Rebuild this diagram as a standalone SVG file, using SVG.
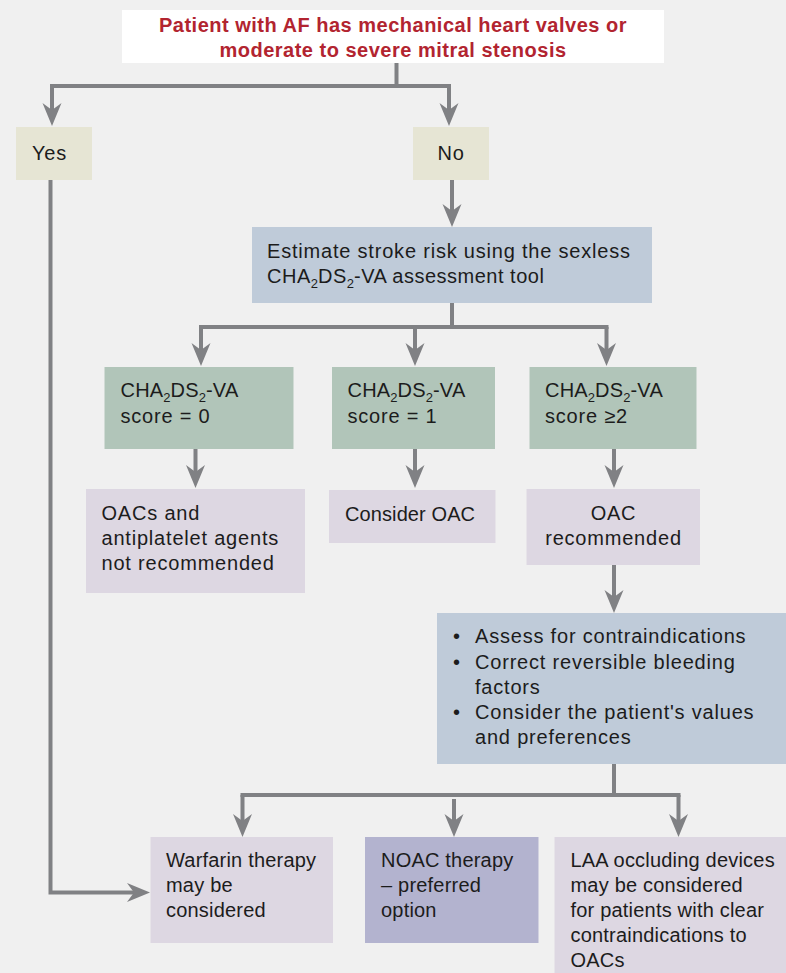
<svg xmlns="http://www.w3.org/2000/svg" width="786" height="973" viewBox="0 0 786 973">
<style>
.t{font-family:"Liberation Sans",Arial,sans-serif;font-size:20px;letter-spacing:0.8px;fill:#1c1c1c}
.n{letter-spacing:0.2px}
.ttl{font-family:"Liberation Sans",Arial,sans-serif;font-size:20px;font-weight:bold;fill:#b22430;text-anchor:middle;letter-spacing:0.5px}
.c{fill:none;stroke:#808184;stroke-width:4}
.a{marker-end:url(#ah)}
.yn{fill:#e6e5d4}
.bl{fill:#bfcbd9}
.gr{fill:#b1c5b9}
.pu{fill:#ddd7e2}
.nv{fill:#b3b3cf}
.s{font-size:13px;letter-spacing:0}
</style>
<defs>
<marker id="ah" markerUnits="userSpaceOnUse" markerWidth="24" markerHeight="20" refX="12" refY="9.5" orient="auto" overflow="visible">
<path d="M0,0 L23,9.5 L0,19 L7,9.5 Z" fill="#808184"/>
</marker>
</defs>
<rect width="786" height="973" fill="#f0f0f0"/>
<g id="connectors">
<path class="c" d="M396.5,63 V86 M50,86 H451"/>
<path class="c a" d="M52,86 V115"/>
<path class="c a" d="M449,86 V115"/>
<path class="c a" d="M452,180 V216"/>
<path class="c" d="M452,303 V327 M199,327 H608.5"/>
<path class="c a" d="M201,327 V355"/>
<path class="c a" d="M415,327 V355"/>
<path class="c a" d="M606.5,327 V355"/>
<path class="c a" d="M195.5,449 V477"/>
<path class="c a" d="M415,449 V477"/>
<path class="c a" d="M614,449 V477"/>
<path class="c a" d="M614,565 V602"/>
<path class="c" d="M614,764 V795 M240.5,795 H680.5"/>
<path class="c a" d="M242.5,795 V826"/>
<path class="c a" d="M454,799 V826"/>
<path class="c a" d="M678.5,795 V826"/>
<path class="c a" d="M50.5,180 V892.5 H139"/>
</g>
<g id="title">
<rect x="122" y="10" width="542" height="53" fill="#ffffff"/>
<text class="ttl" x="393" y="32">Patient with AF has mechanical heart valves or</text>
<text class="ttl" x="393" y="57">moderate to severe mitral stenosis</text>
</g>
<g id="yes">
<rect class="yn" x="16" y="127" width="76" height="53"/>
<text class="t" x="32" y="160">Yes</text>
</g>
<g id="no">
<rect class="yn" x="413" y="127" width="76" height="53"/>
<text class="t" x="451" y="160" text-anchor="middle">No</text>
</g>
<g id="estimate">
<rect class="bl" x="252" y="227" width="400" height="76"/>
<text class="t" x="267" y="258">Estimate stroke risk using the sexless</text>
<text class="t" x="267" y="283" style="letter-spacing:0.5px">CHA<tspan class="s" dy="5">2</tspan><tspan dy="-5">DS</tspan><tspan class="s" dy="5">2</tspan><tspan dy="-5">-VA assessment tool</tspan></text>
</g>
<g id="score0">
<rect class="gr" x="104.5" y="367" width="189" height="82"/>
<text class="t n" x="120.5" y="397">CHA<tspan class="s" dy="5">2</tspan><tspan dy="-5">DS</tspan><tspan class="s" dy="5">2</tspan><tspan dy="-5">-VA</tspan></text>
<text class="t" x="120.5" y="423">score = 0</text>
</g>
<g id="score1">
<rect class="gr" x="332" y="367" width="163" height="82"/>
<text class="t n" x="347.5" y="397">CHA<tspan class="s" dy="5">2</tspan><tspan dy="-5">DS</tspan><tspan class="s" dy="5">2</tspan><tspan dy="-5">-VA</tspan></text>
<text class="t" x="347.5" y="423">score = 1</text>
</g>
<g id="score2">
<rect class="gr" x="529.5" y="367" width="167" height="82"/>
<text class="t n" x="545" y="397">CHA<tspan class="s" dy="5">2</tspan><tspan dy="-5">DS</tspan><tspan class="s" dy="5">2</tspan><tspan dy="-5">-VA</tspan></text>
<text class="t" x="545" y="423">score ≥2</text>
</g>
<g id="notrec">
<rect class="pu" x="86" y="489" width="219" height="104"/>
<text class="t" x="101.5" y="520">OACs and</text>
<text class="t" x="101.5" y="545">antiplatelet agents</text>
<text class="t" x="101.5" y="570">not recommended</text>
</g>
<g id="consider">
<rect class="pu" x="329" y="490" width="166.5" height="53"/>
<text class="t" x="345" y="521" style="letter-spacing:0.1px">Consider OAC</text>
</g>
<g id="recommended">
<rect class="pu" x="526.5" y="489" width="173.5" height="76"/>
<text class="t" x="613.5" y="520" text-anchor="middle">OAC</text>
<text class="t" x="613.5" y="545" text-anchor="middle">recommended</text>
</g>
<g id="assess">
<rect class="bl" x="437" y="613" width="349" height="151"/>
<text class="t" x="453" y="643">•</text>
<text class="t" x="475" y="643">Assess for contraindications</text>
<text class="t" x="453" y="669">•</text>
<text class="t" x="475" y="669">Correct reversible bleeding</text>
<text class="t" x="475" y="694">factors</text>
<text class="t" x="453" y="719">•</text>
<text class="t" x="475" y="719">Consider the patient's values</text>
<text class="t" x="475" y="744">and preferences</text>
</g>
<g id="warfarin">
<rect class="pu" x="150.5" y="837" width="182.5" height="106"/>
<text class="t n" x="166" y="867">Warfarin therapy</text>
<text class="t n" x="166" y="892">may be</text>
<text class="t n" x="166" y="917">considered</text>
</g>
<g id="noac">
<rect class="nv" x="365" y="837" width="173.5" height="106"/>
<text class="t n" x="381" y="867">NOAC therapy</text>
<text class="t n" x="381" y="892">– preferred</text>
<text class="t n" x="381" y="917">option</text>
</g>
<g id="laa">
<rect class="pu" x="554.5" y="837" width="231.5" height="136"/>
<text class="t n" x="570.5" y="867">LAA occluding devices</text>
<text class="t n" x="570.5" y="892">may be considered</text>
<text class="t n" x="570.5" y="917">for patients with clear</text>
<text class="t n" x="570.5" y="942">contraindications to</text>
<text class="t n" x="570.5" y="967">OACs</text>
</g>
</svg>
